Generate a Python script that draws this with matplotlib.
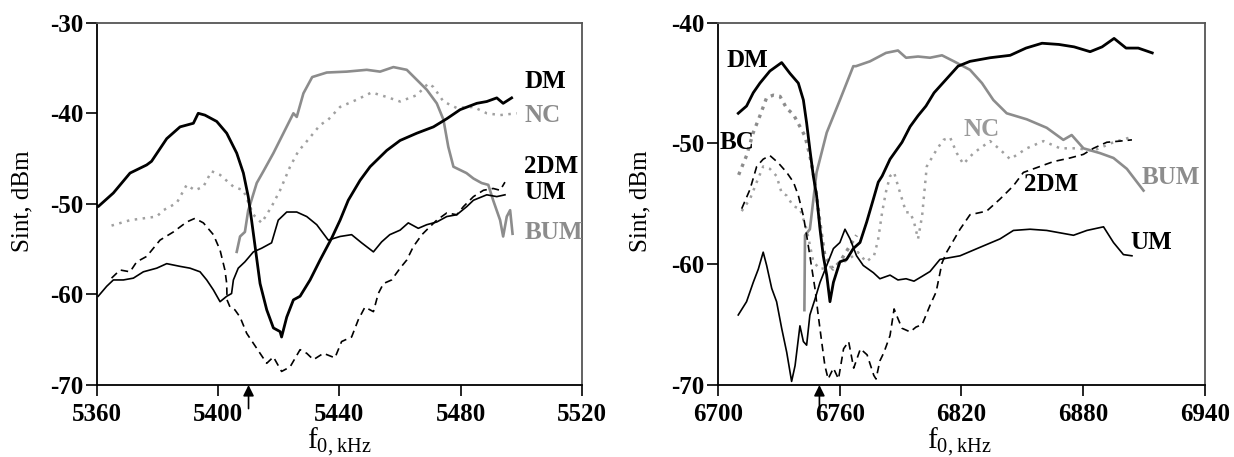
import matplotlib
matplotlib.use("Agg")
import matplotlib.pyplot as plt

plt.rcParams['font.family'] = ['Liberation Serif', 'DejaVu Serif']
plt.rcParams['mathtext.fontset'] = 'custom'
plt.rcParams['mathtext.rm'] = 'Liberation Serif'
plt.rcParams['axes.unicode_minus'] = False

# ---------------- Left panel data (f0, kHz ; S_int, dBm) ----------------
dm_l_x = [5360, 5360.4, 5365.4, 5370.9, 5376.4, 5378, 5383, 5387.4, 5391.8, 5393.4, 5395.6,
          5399.5, 5402.8, 5406.1, 5408.3, 5409.9, 5411, 5413.8, 5416, 5418.2, 5420.4, 5420.9,
          5422.6, 5424.8, 5427, 5430.3, 5433.6, 5437.4, 5440.2, 5442.9, 5446.8, 5450.1,
          5455.6, 5460, 5465.5, 5471, 5475.4, 5479.8, 5485.3, 5488.6, 5491.9, 5494, 5496.8]
dm_l_y = [-50.2, -50.3, -48.8, -46.6, -45.7, -45.3, -42.8, -41.5, -41.1, -40.0, -40.2,
          -40.9, -42.2, -44.4, -46.6, -49.2, -51.8, -58.8, -61.7, -63.7, -64.1, -64.7,
          -62.5, -60.6, -60.2, -58.4, -56.2, -53.8, -51.8, -49.6, -47.4, -45.9,
          -44.1, -43.0, -42.2, -41.5, -40.6, -39.6, -38.9, -38.7, -38.3, -38.9, -38.3]

nc_l_x = [5364.8, 5370.9, 5379.7, 5381.9, 5386.3, 5389.6, 5392.3, 5395.1, 5397.8, 5400.6,
          5405, 5408.3, 5411.6, 5414.3, 5417.6, 5420.4, 5423.7, 5426.4, 5429.2, 5433.6,
          5436.3, 5440.2, 5445.7, 5450.6, 5455.6, 5460, 5465.5, 5469.3, 5471, 5474.3,
          5478.6, 5484.2, 5488.6, 5493, 5498.5]
nc_l_y = [-52.4, -51.8, -51.4, -50.7, -49.9, -47.9, -48.5, -48.1, -46.4, -46.8,
          -48.1, -48.5, -51.2, -52.1, -50.3, -48.5, -45.9, -44.2, -43.1, -41.3,
          -40.7, -39.3, -38.5, -37.7, -38.2, -38.7, -38.0, -36.7, -37.1, -38.7,
          -39.4, -39.3, -40.0, -40.2, -40.0]

bum_l_x = [5406.1, 5407.2, 5408.8, 5409.9, 5410.5, 5412.7, 5414.9, 5418.2, 5421.5, 5424.8,
           5425.9, 5428.1, 5431, 5435.8, 5442.4, 5449, 5453.4, 5457.8, 5462.2, 5465.5,
           5468.8, 5472.1, 5474.3, 5475.9, 5477.6, 5481.9, 5484.2, 5486.9, 5489.1, 5490.7,
           5493, 5494, 5495.2, 5496.3, 5497.1]
bum_l_y = [-55.3, -53.6, -53.1, -50.7, -50.1, -47.7, -46.4, -44.4, -42.2, -40.0,
           -40.4, -37.8, -36.0, -35.5, -35.4, -35.2, -35.4, -34.9, -35.2, -36.3,
           -37.4, -38.9, -40.7, -43.7, -45.9, -46.6, -47.2, -47.7, -47.9, -49.6,
           -51.8, -53.6, -51.4, -50.7, -53.3]

dm2_l_x = [5364.8, 5367.6, 5370.9, 5373.1, 5376.4, 5380.8, 5385.2, 5389.6, 5392.3, 5395.1,
           5398.4, 5400.6, 5402.2, 5402.8, 5402.9, 5403.9, 5405.5, 5407.2, 5409.4, 5411.6,
           5413.8, 5416, 5418.2, 5420.9, 5423.7, 5427, 5429.2, 5431.4, 5434.7, 5438.5,
           5440.7, 5444, 5446.2, 5448.4, 5451.2, 5452.8, 5454.5, 5457.2, 5460, 5462.2,
           5464.4, 5467.2, 5469.3, 5472.1, 5475.4, 5478.7, 5480.9, 5484.2, 5487.5, 5490.7,
           5493, 5494.6]
dm2_l_y = [-58.2, -57.3, -57.5, -56.4, -55.8, -54.0, -53.1, -52.0, -51.6, -52.1,
           -53.4, -55.1, -57.3, -58.8, -60.6, -61.4, -61.7, -62.5, -64.3, -65.4,
           -66.5, -67.6, -66.9, -68.5, -68.0, -66.1, -66.5, -67.2, -66.5, -67.0,
           -65.2, -64.7, -62.8, -61.4, -61.9, -59.9, -58.8, -58.4, -57.1, -56.2,
           -54.7, -53.4, -52.7, -51.8, -51.0, -51.2, -50.3, -49.2, -48.5, -48.3,
           -48.5, -47.6]

um_l_x = [5360.4, 5363.2, 5365.4, 5368.7, 5372, 5375.3, 5379.7, 5383, 5387.4, 5390.7,
          5394, 5396.2, 5398.4, 5400.6, 5402.8, 5404.4, 5405, 5406.6, 5408.8, 5411.6,
          5414.3, 5417.6, 5419.8, 5422.6, 5425.9, 5429.2, 5432.5, 5436.3, 5440.2, 5444,
          5447.3, 5451.2, 5453.9, 5456.6, 5460, 5462.7, 5466, 5468.8, 5472.1, 5475.4,
          5478.7, 5482, 5484.2, 5488.6, 5491.9, 5494.6]
um_l_y = [-60.2, -59.1, -58.4, -58.4, -58.2, -57.5, -57.1, -56.6, -56.9, -57.1,
          -57.5, -58.4, -59.5, -60.8, -60.2, -59.9, -58.4, -57.1, -56.4, -55.3,
          -54.9, -54.3, -51.8, -50.9, -50.9, -51.4, -52.3, -54.0, -53.6, -53.4,
          -54.3, -55.3, -54.2, -53.4, -52.9, -52.1, -52.7, -52.3, -52.0, -51.4,
          -51.2, -50.3, -49.6, -49.0, -49.2, -49.0]

# ---------------- Right panel data ----------------
dm_r_x = [6710, 6714.1, 6717.4, 6720.7, 6725.6, 6731.4, 6735.5, 6739.6, 6742.1, 6743.7,
          6745.3, 6747, 6748.6, 6750.3, 6751.9, 6753.6, 6755.2, 6756.9, 6760.1, 6763.4,
          6766.7, 6770, 6773.3, 6776.6, 6779, 6780.9, 6784.8, 6790.7, 6794.7, 6798.6,
          6802.5, 6806.5, 6812.4, 6818.3, 6824.2, 6834.1, 6844, 6851.8, 6859.7, 6868,
          6875.5, 6883.4, 6889.3, 6895.2, 6901.1, 6907.1, 6914]
dm_r_y = [-47.5, -46.9, -45.8, -45.0, -44.0, -43.3, -44.2, -45.0, -46.4, -48.3,
          -50.5, -52.7, -54.3, -57.1, -59.3, -60.9, -63.1, -61.5, -59.8, -59.6,
          -58.7, -58.2, -56.5, -54.6, -53.2, -52.7, -51.3, -49.9, -48.6, -47.7,
          -46.9, -45.8, -44.7, -43.6, -43.2, -42.9, -42.7, -42.1, -41.7, -41.8,
          -42.0, -42.4, -42.0, -41.3, -42.1, -42.1, -42.5]

bc_r_x = [6710.2, 6714.1, 6717.4, 6720.7, 6724, 6727.3, 6730.6, 6733.9, 6737.2, 6740.4,
          6742.9, 6745.3, 6747.8, 6749.4, 6751.1, 6752.7, 6756.7, 6760.1, 6764.2, 6768.3]
bc_r_y = [-52.6, -51.0, -49.1, -47.7, -46.2, -46.0, -46.1, -47.1, -47.6, -48.6,
          -49.4, -51.0, -53.2, -55.4, -57.6, -59.3, -60.4, -59.8, -58.7, -57.6]

nc_r_x = [6711.7, 6715.8, 6719.1, 6722.3, 6725.6, 6728.9, 6731.4, 6733.8, 6737.2, 6740.4,
          6743.7, 6747, 6750.3, 6759.2, 6765.1, 6769, 6773, 6776.9, 6778.9, 6780.9,
          6782.8, 6784.8, 6786.8, 6788.7, 6790.7, 6792.7, 6794.7, 6796.6, 6798.6, 6800.6,
          6802.9, 6807.8, 6811.1, 6814.4, 6817.7, 6820.9, 6825.9, 6834.1, 6839, 6844,
          6852.2, 6860.4, 6868.6, 6876.8, 6885, 6894.9, 6903.1]
nc_r_y = [-55.6, -54.6, -53.2, -51.9, -52.1, -52.7, -54.1, -54.3, -55.2, -55.4,
          -57.1, -59.8, -60.4, -60.1, -59.5, -59.0, -59.8, -59.3, -58.0, -55.7,
          -54.0, -52.7, -52.4, -53.5, -54.6, -55.7, -55.7, -56.5, -57.9, -56.0,
          -51.9, -50.5, -49.7, -49.5, -50.8, -51.7, -50.8, -49.8, -50.5, -51.3,
          -50.4, -49.8, -50.4, -50.4, -50.6, -49.9, -49.5]

bum_r_x = [6742.6, 6742.9, 6745.3, 6748.6, 6753.6, 6760.1, 6766.7, 6768, 6774.9, 6782.8,
           6788.7, 6792.7, 6798.6, 6804.5, 6810.4, 6816.3, 6824.2, 6830.1, 6835.7, 6842.3,
           6852.2, 6862, 6870.2, 6874.3, 6880.1, 6888.3, 6894.9, 6901.5, 6905.6, 6909.7]
bum_r_y = [-63.8, -57.6, -57.1, -52.4, -49.1, -46.4, -43.6, -43.6, -43.2, -42.5,
           -42.3, -42.9, -42.8, -42.9, -42.7, -43.2, -43.9, -45.0, -46.4, -47.5,
           -48.0, -48.7, -49.7, -49.3, -50.4, -50.8, -51.2, -52.1, -53.0, -53.9]

dm2_r_x = [6711.7, 6715.8, 6719.1, 6722.3, 6725.6, 6729.7, 6733.9, 6737.2, 6739.6, 6742.1,
           6743.7, 6745.3, 6747.8, 6749.4, 6751.1, 6752.7, 6754.3, 6756.9, 6759.4, 6761.9,
           6764.4, 6766.9, 6770.2, 6773.5, 6776.8, 6777.9, 6779.8, 6781.8, 6784.8, 6786.8,
           6788.7, 6790.7, 6794.7, 6797.6, 6800.6, 6804.5, 6807.5, 6810.4, 6812.7, 6819.3,
           6824.2, 6832.4, 6839, 6845.6, 6850.5, 6857.1, 6865.3, 6873.5, 6880.1, 6885,
           6891.6, 6898.2, 6904]
dm2_r_y = [-55.4, -53.8, -51.9, -51.3, -51.0, -51.6, -52.4, -53.2, -54.3, -56.0,
           -57.6, -59.3, -62.0, -64.2, -66.4, -68.4, -69.5, -68.6, -69.5, -67.0,
           -66.4, -68.6, -67.0, -67.5, -69.2, -69.5, -68.0, -67.3, -65.9, -63.7,
           -64.5, -65.3, -65.6, -65.2, -65.0, -63.4, -62.3, -59.9, -59.0, -57.1,
           -55.9, -55.6, -54.6, -53.5, -52.4, -52.0, -51.5, -51.2, -50.9, -50.4,
           -49.9, -49.8, -49.7]

um_r_x = [6710, 6714.1, 6717.4, 6719.9, 6722.3, 6724, 6726.5, 6728.9, 6731.4, 6733.9,
          6736.3, 6738, 6740.4, 6742.1, 6743.7, 6745.3, 6747.8, 6750.3, 6753.6, 6756.9,
          6760.1, 6762.6, 6765.1, 6768.3, 6771.6, 6776.6, 6779.8, 6784.8, 6788.7, 6792.7,
          6796.6, 6800.6, 6804.5, 6809.4, 6819.3, 6829.1, 6839, 6845.6, 6853.8, 6862,
          6868.6, 6875.2, 6881.8, 6890, 6894.9, 6899.8, 6904]
um_r_y = [-64.2, -63.1, -61.5, -60.4, -59.0, -60.1, -62.0, -63.1, -65.3, -67.3,
          -69.7, -68.4, -65.1, -66.4, -66.7, -64.2, -62.9, -61.5, -60.1, -58.7,
          -58.2, -57.1, -57.9, -59.3, -60.1, -60.7, -61.2, -60.9, -61.3, -61.2,
          -61.4, -61.0, -60.6, -59.6, -59.3, -58.6, -57.9, -57.2, -57.1, -57.2,
          -57.4, -57.6, -57.2, -56.9, -58.2, -59.2, -59.3]

left_xticks = [5360, 5400, 5440, 5480, 5520]
left_yticks = [-70, -60, -50, -40, -30]
right_xticks = [6700, 6760, 6820, 6880, 6940]
right_yticks = [-70, -60, -50, -40]

left_labels = [("DM", 5501, -36.5, 'black'), ("NC", 5501, -40.2, '#8c8c8c'),
               ("2DM", 5501, -45.9, 'black'), ("UM", 5501, -48.8, 'black'),
               ("BUM", 5501, -53.2, '#8c8c8c')]
right_labels = [("DM", 6704, -43.1, 'black'), ("BC", 6701, -49.9, 'black'),
                ("NC", 6821, -48.85, '#9a9a9a'), ("2DM", 6851, -53.4, 'black'),
                ("BUM", 6909, -52.8, '#8c8c8c'), ("UM", 6903, -58.2, 'black')]

arrow_left = 5410
arrow_right = 6750

fig = plt.figure(figsize=(12.34, 4.57), dpi=100)
ax1 = fig.add_axes([0.0786, 0.1575, 0.3930, 0.7928])
ax2 = fig.add_axes([0.5818, 0.1575, 0.3947, 0.7928])

BLACK_THICK = dict(color='black', lw=2.0, solid_joinstyle='round')
BLACK_THIN = dict(color='black', lw=1.2)
GRAY_SOLID = dict(color='#8c8c8c', lw=1.9)
GRAY_DOT = dict(color='#a0a0a0', lw=1.8, linestyle=(0, (1, 2.2)))
BLACK_DASH = dict(color='black', lw=1.2, linestyle=(0, (4.5, 3)))

# left
ax1.plot(nc_l_x, nc_l_y, **GRAY_DOT)
ax1.plot(bum_l_x, bum_l_y, **GRAY_SOLID)
ax1.plot(dm2_l_x, dm2_l_y, **BLACK_DASH)
ax1.plot(um_l_x, um_l_y, **BLACK_THIN)
ax1.plot(dm_l_x, dm_l_y, **BLACK_THICK)

# right
ax2.plot(bc_r_x, bc_r_y, color='#8c8c8c', lw=2.4, linestyle=(0, (1, 1.6)))
ax2.plot(nc_r_x, nc_r_y, **GRAY_DOT)
ax2.plot(bum_r_x, bum_r_y, **GRAY_SOLID)
ax2.plot(dm2_r_x, dm2_r_y, **BLACK_DASH)
ax2.plot(um_r_x, um_r_y, **BLACK_THIN)
ax2.plot(dm_r_x, dm_r_y, **BLACK_THICK)

for ax, xt, yt, lab, arr in [(ax1, left_xticks, left_yticks, left_labels, arrow_left),
                             (ax2, right_xticks, right_yticks, right_labels, arrow_right)]:
    ax.set_xlim(xt[0], xt[-1])
    ax.set_ylim(yt[0], yt[-1])
    ax.set_xticks(xt)
    ax.set_yticks(yt)
    ax.set_xticklabels([str(v) for v in xt])
    ax.set_yticklabels([str(v) for v in yt])
    ax.tick_params(axis='both', direction='out', length=8, width=1.2, labelsize=18,
                   colors='black')
    ax.tick_params(axis='x', pad=5)
    ax.tick_params(axis='y', pad=2)
    for t in ax.get_xticklabels() + ax.get_yticklabels():
        t.set_fontweight('bold')
    for s in ['left', 'bottom']:
        ax.spines[s].set_color('black')
        ax.spines[s].set_linewidth(1.3)
    for s in ['top', 'right']:
        ax.spines[s].set_color('#555555')
        ax.spines[s].set_linewidth(1.3)
    for txt, x, y, c in lab:
        ax.text(x, y, txt, color=c, fontsize=18, fontweight='bold',
                ha='left', va='center', clip_on=False)
    ax.annotate('', xy=(arr, 0.0), xycoords=('data', 'axes fraction'),
                xytext=(arr, -0.065), textcoords=('data', 'axes fraction'),
                arrowprops=dict(arrowstyle='-|>', color='black', lw=1.2,
                                mutation_scale=16, shrinkA=0, shrinkB=0),
                annotation_clip=False)

for xc in (0.018, 0.519):
    fig.text(xc, 0.56, "Sint, dBm", rotation=90, ha='center', va='center', fontsize=18)
for xc in (0.2747, 0.777):
    fig.text(xc, 0.031, r"f$_{\mathregular{0,kHz}}$", ha='center', va='center', fontsize=21)

fig.savefig("out.png", dpi=100, facecolor='white')
